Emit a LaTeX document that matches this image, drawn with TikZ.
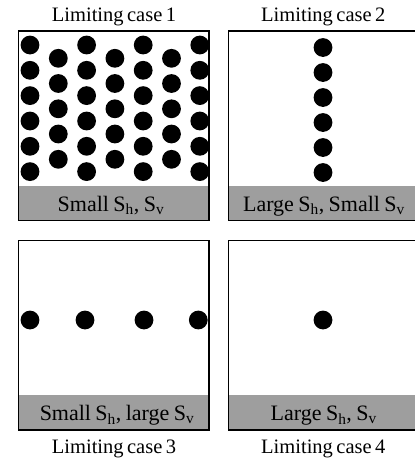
\documentclass[tikz,border=0pt]{standalone}
\usepackage{fontspec}
\setmainfont{Liberation Serif}
\definecolor{bandgray}{RGB}{158,158,158}
\newcommand\bandfont{\fontsize{22}{26}\selectfont\spaceskip=0.2em plus 0.05em\relax}
\newcommand\capfont{\fontsize{20.5}{25}\selectfont\spaceskip=0.17em plus 0.05em\relax}
\begin{document}
\begin{tikzpicture}[x=1pt,y=-1pt,
  panel/.style={draw=black, line width=1.8pt, minimum width=190.5pt, minimum height=189.5pt, inner sep=0pt, outer sep=0pt},
  band/.style={fill=bandgray, minimum width=190.5pt, minimum height=35pt, inner sep=0pt, outer sep=0pt, anchor=south},
  dot/.style={circle, fill=black, minimum size=18.8pt, inner sep=0pt},
  txt/.style={font=\bandfont, anchor=base, inner sep=0pt},
  captxt/.style={font=\capfont, anchor=base, inner sep=0pt},
]
\useasboundingbox (0,0) rectangle (415,461);
\clip (0,0) rectangle (415,461);

% grey bands
\node[band] (b1) at (113.75,220.5) {};
\node[band] (b2) at (323.75,220.5) {};
\node[band] (b3) at (113.75,430) {};
\node[band] (b4) at (323.75,430) {};

% case 1 dots
\foreach \c/\x in {1/30,3/86.6,5/143.2,7/199.8}{
  \foreach \r/\y in {1/45,2/70.3,3/95.6,4/121,5/146.3,6/171.6}{
    \node[dot] (d1-\c-\r) at (\x,\y) {};
  }
}
\foreach \c/\x in {2/58.3,4/114.9,6/171.5}{
  \foreach \r/\y in {1/58.3,2/83.5,3/108.8,4/134,5/159.3}{
    \node[dot] (d1-\c-\r) at (\x,\y) {};
  }
}
% case 2 dots
\foreach \r/\y in {1/47.5,2/72.5,3/97.5,4/122.5,5/147.5,6/172.5}{
  \node[dot] (d2-\r) at (323,\y) {};
}
% case 3 dots
\foreach \c/\x in {1/30,2/85,3/144,4/198.3}{
  \node[dot] (d3-\c) at (\x,320) {};
}
% case 4 dot
\node[dot] (d4) at (323,320) {};

% panels
\node[panel] (p1) at (113.75,125.75) {};
\node[panel] (p2) at (323.75,125.75) {};
\node[panel] (p3) at (113.75,335.25) {};
\node[panel] (p4) at (323.75,335.25) {};

% band texts
\node[txt] (t1) at (111,211) {Small S\textsubscript{h}, S\textsubscript{v}};
\node[txt] (t2) at (324,211) {Large S\textsubscript{h}, Small S\textsubscript{v}};
\node[txt] (t3) at (117,420.5) {Small S\textsubscript{h}, large S\textsubscript{v}};
\node[txt] (t4) at (323.75,420.5) {Large S\textsubscript{h}, S\textsubscript{v}};

% captions
\node[captxt] (c1) at (114,21.5) {Limiting case 1};
\node[captxt] (c2) at (323.3,21.5) {Limiting case 2};
\node[captxt] (c3) at (114,453) {Limiting case 3};
\node[captxt] (c4) at (323.3,453) {Limiting case 4};
\end{tikzpicture}
\end{document}
